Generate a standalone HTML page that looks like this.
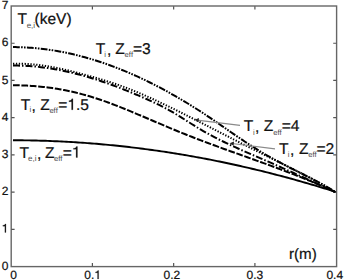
<!DOCTYPE html>
<html><head><meta charset="utf-8"><style>
html,body{margin:0;padding:0;background:#fff;}
svg{display:block;}
text{text-rendering:geometricPrecision;}
</style></head><body>
<svg width="344" height="280" viewBox="0 0 344 280">
<rect width="344" height="280" fill="#fff"/>
<rect x="11.2" y="6.0" width="325.4" height="260.6" fill="none" stroke="#666" stroke-width="1.4"/>
<path d="M92.40,266.5 v-3.4 M92.40,6.2 v3.4 M173.65,266.5 v-3.4 M173.65,6.2 v3.4 M254.90,266.5 v-3.4 M254.90,6.2 v3.4 M11.2,229.29 h3.4 M336.6,229.29 h-3.4 M11.2,192.08 h3.4 M336.6,192.08 h-3.4 M11.2,154.87 h3.4 M336.6,154.87 h-3.4 M11.2,117.66 h3.4 M336.6,117.66 h-3.4 M11.2,80.45 h3.4 M336.6,80.45 h-3.4 M11.2,43.24 h3.4 M336.6,43.24 h-3.4" stroke="#555" stroke-width="1.2" fill="none"/>
<path d="M13.00,140.25 L15.32,140.26 L17.64,140.27 L19.96,140.28 L22.28,140.31 L24.60,140.34 L26.92,140.37 L29.24,140.41 L31.56,140.45 L33.88,140.50 L36.20,140.55 L38.52,140.61 L40.84,140.68 L43.16,140.75 L45.48,140.82 L47.80,140.91 L50.12,140.99 L52.44,141.08 L54.76,141.18 L57.08,141.28 L59.40,141.39 L61.72,141.50 L64.04,141.62 L66.36,141.74 L68.68,141.87 L71.00,142.00 L73.32,142.14 L75.64,142.29 L77.96,142.44 L80.28,142.59 L82.60,142.75 L84.92,142.92 L87.24,143.09 L89.56,143.26 L91.88,143.45 L94.21,143.63 L96.53,143.82 L98.85,144.02 L101.17,144.22 L103.49,144.43 L105.81,144.64 L108.13,144.86 L110.45,145.08 L112.77,145.31 L115.09,145.55 L117.41,145.79 L119.73,146.03 L122.05,146.28 L124.37,146.54 L126.69,146.80 L129.01,147.06 L131.33,147.33 L133.65,147.61 L135.97,147.89 L138.29,148.18 L140.61,148.47 L142.93,148.77 L145.25,149.07 L147.57,149.38 L149.89,149.69 L152.21,150.01 L154.53,150.33 L156.85,150.66 L159.17,151.00 L161.49,151.34 L163.81,151.68 L166.13,152.03 L168.45,152.39 L170.77,152.75 L173.09,153.12 L175.41,153.49 L177.73,153.86 L180.05,154.25 L182.37,154.63 L184.69,155.03 L187.01,155.42 L189.33,155.83 L191.65,156.23 L193.97,156.65 L196.29,157.07 L198.61,157.49 L200.93,157.92 L203.25,158.36 L205.57,158.80 L207.89,159.24 L210.21,159.69 L212.53,160.15 L214.85,160.61 L217.17,161.08 L219.49,161.55 L221.81,162.02 L224.13,162.51 L226.45,162.99 L228.77,163.49 L231.09,163.99 L233.41,164.49 L235.73,165.00 L238.05,165.51 L240.37,166.03 L242.69,166.56 L245.01,167.09 L247.33,167.62 L249.65,168.16 L251.97,168.71 L254.29,169.26 L256.62,169.81 L258.94,170.38 L261.26,170.94 L263.58,171.52 L265.90,172.09 L268.22,172.68 L270.54,173.26 L272.86,173.86 L275.18,174.46 L277.50,175.06 L279.82,175.67 L282.14,176.28 L284.46,176.90 L286.78,177.53 L289.10,178.16 L291.42,178.79 L293.74,179.43 L296.06,180.08 L298.38,180.73 L300.70,181.39 L303.02,182.05 L305.34,182.72 L307.66,183.39 L309.98,184.07 L312.30,184.75 L314.62,185.44 L316.94,186.13 L319.26,186.83 L321.58,187.54 L323.90,188.25 L326.22,188.96 L328.54,189.68 L330.86,190.41 L333.18,191.14 L335.50,191.87" fill="none" stroke="#000" stroke-width="1.9"/>
<path d="M13.00,85.30 L15.32,85.31 L17.64,85.33 L19.96,85.37 L22.28,85.44 L24.60,85.52 L26.92,85.62 L29.24,85.75 L31.56,85.89 L33.88,86.05 L36.20,86.24 L38.52,86.44 L40.84,86.67 L43.16,86.91 L45.48,87.18 L47.80,87.47 L50.12,87.78 L52.44,88.11 L54.76,88.46 L57.08,88.83 L59.40,89.22 L61.72,89.64 L64.04,90.08 L66.36,90.53 L68.68,91.02 L71.00,91.52 L73.32,92.04 L75.64,92.59 L77.96,93.16 L80.28,93.75 L82.60,94.36 L84.92,94.99 L87.24,95.65 L89.56,96.33 L91.88,97.03 L94.21,97.76 L96.53,98.51 L98.85,99.27 L101.17,100.06 L103.49,100.86 L105.81,101.68 L108.13,102.52 L110.45,103.38 L112.77,104.24 L115.09,105.13 L117.41,106.03 L119.73,106.93 L122.05,107.85 L124.37,108.79 L126.69,109.73 L129.01,110.68 L131.33,111.63 L133.65,112.60 L135.97,113.57 L138.29,114.55 L140.61,115.53 L142.93,116.51 L145.25,117.50 L147.57,118.49 L149.89,119.48 L152.21,120.47 L154.53,121.46 L156.85,122.45 L159.17,123.44 L161.49,124.42 L163.81,125.41 L166.13,126.39 L168.45,127.36 L170.77,128.33 L173.09,129.30 L175.41,130.26 L177.73,131.22 L180.05,132.17 L182.37,133.11 L184.69,134.04 L187.01,134.97 L189.33,135.89 L191.65,136.80 L193.97,137.70 L196.29,138.60 L198.61,139.48 L200.93,140.37 L203.25,141.25 L205.57,142.12 L207.89,142.98 L210.21,143.85 L212.53,144.70 L214.85,145.56 L217.17,146.41 L219.49,147.25 L221.81,148.10 L224.13,148.94 L226.45,149.77 L228.77,150.61 L231.09,151.44 L233.41,152.27 L235.73,153.10 L238.05,153.93 L240.37,154.76 L242.69,155.59 L245.01,156.42 L247.33,157.25 L249.65,158.08 L251.97,158.91 L254.29,159.74 L256.62,160.58 L258.94,161.41 L261.26,162.25 L263.58,163.09 L265.90,163.93 L268.22,164.78 L270.54,165.63 L272.86,166.49 L275.18,167.35 L277.50,168.21 L279.82,169.08 L282.14,169.95 L284.46,170.83 L286.78,171.71 L289.10,172.60 L291.42,173.50 L293.74,174.40 L296.06,175.32 L298.38,176.23 L300.70,177.16 L303.02,178.09 L305.34,179.04 L307.66,179.99 L309.98,180.95 L312.30,181.92 L314.62,182.90 L316.94,183.89 L319.26,184.89 L321.58,185.90 L323.90,186.92 L326.22,187.95 L328.54,189.00 L330.86,190.05 L333.18,191.12 L335.50,192.20" fill="none" stroke="#000" stroke-width="2" stroke-dasharray="6.7 1.7"/>
<path d="M13.00,65.60 L15.32,65.59 L17.64,65.61 L19.96,65.65 L22.28,65.72 L24.60,65.81 L26.92,65.93 L29.24,66.07 L31.56,66.24 L33.88,66.43 L36.20,66.64 L38.52,66.88 L40.84,67.14 L43.16,67.42 L45.48,67.73 L47.80,68.06 L50.12,68.41 L52.44,68.78 L54.76,69.18 L57.08,69.60 L59.40,70.03 L61.72,70.49 L64.04,70.97 L66.36,71.47 L68.68,71.98 L71.00,72.52 L73.32,73.08 L75.64,73.66 L77.96,74.25 L80.28,74.87 L82.60,75.50 L84.92,76.15 L87.24,76.82 L89.56,77.50 L91.88,78.20 L94.21,78.92 L96.53,79.66 L98.85,80.41 L101.17,81.18 L103.49,81.97 L105.81,82.77 L108.13,83.58 L110.45,84.41 L112.77,85.26 L115.09,86.12 L117.41,86.99 L119.73,87.88 L122.05,88.78 L124.37,89.70 L126.69,90.63 L129.01,91.57 L131.33,92.52 L133.65,93.49 L135.97,94.46 L138.29,95.45 L140.61,96.46 L142.93,97.47 L145.25,98.49 L147.57,99.53 L149.89,100.57 L152.21,101.64 L154.53,102.72 L156.85,103.82 L159.17,104.95 L161.49,106.11 L163.81,107.30 L166.13,108.53 L168.45,109.79 L170.77,111.09 L173.09,112.44 L175.41,113.82 L177.73,115.23 L180.05,116.66 L182.37,118.11 L184.69,119.58 L187.01,121.05 L189.33,122.52 L191.65,123.98 L193.97,125.43 L196.29,126.87 L198.61,128.29 L200.93,129.67 L203.25,131.02 L205.57,132.35 L207.89,133.64 L210.21,134.91 L212.53,136.15 L214.85,137.37 L217.17,138.56 L219.49,139.74 L221.81,140.89 L224.13,142.02 L226.45,143.14 L228.77,144.24 L231.09,145.32 L233.41,146.39 L235.73,147.45 L238.05,148.49 L240.37,149.53 L242.69,150.55 L245.01,151.57 L247.33,152.59 L249.65,153.60 L251.97,154.60 L254.29,155.61 L256.62,156.61 L258.94,157.62 L261.26,158.62 L263.58,159.63 L265.90,160.65 L268.22,161.66 L270.54,162.68 L272.86,163.70 L275.18,164.72 L277.50,165.75 L279.82,166.77 L282.14,167.81 L284.46,168.84 L286.78,169.87 L289.10,170.91 L291.42,171.95 L293.74,173.00 L296.06,174.04 L298.38,175.09 L300.70,176.14 L303.02,177.20 L305.34,178.25 L307.66,179.31 L309.98,180.37 L312.30,181.43 L314.62,182.50 L316.94,183.57 L319.26,184.64 L321.58,185.71 L323.90,186.79 L326.22,187.87 L328.54,188.95 L330.86,190.03 L333.18,191.11 L335.50,192.20" fill="none" stroke="#000" stroke-width="2" stroke-dasharray="7 2 1.5 2"/>
<path d="M13.00,63.70 L15.32,63.65 L17.64,63.64 L19.96,63.66 L22.28,63.72 L24.60,63.81 L26.92,63.93 L29.24,64.08 L31.56,64.26 L33.88,64.48 L36.20,64.72 L38.52,64.98 L40.84,65.28 L43.16,65.60 L45.48,65.95 L47.80,66.32 L50.12,66.71 L52.44,67.12 L54.76,67.56 L57.08,68.02 L59.40,68.49 L61.72,68.99 L64.04,69.50 L66.36,70.03 L68.68,70.57 L71.00,71.13 L73.32,71.71 L75.64,72.30 L77.96,72.90 L80.28,73.51 L82.60,74.13 L84.92,74.76 L87.24,75.40 L89.56,76.05 L91.88,76.70 L94.21,77.36 L96.53,78.03 L98.85,78.71 L101.17,79.40 L103.49,80.10 L105.81,80.82 L108.13,81.54 L110.45,82.29 L112.77,83.04 L115.09,83.82 L117.41,84.60 L119.73,85.41 L122.05,86.24 L124.37,87.09 L126.69,87.95 L129.01,88.84 L131.33,89.76 L133.65,90.69 L135.97,91.65 L138.29,92.62 L140.61,93.61 L142.93,94.62 L145.25,95.64 L147.57,96.67 L149.89,97.71 L152.21,98.77 L154.53,99.83 L156.85,100.90 L159.17,101.99 L161.49,103.08 L163.81,104.18 L166.13,105.29 L168.45,106.40 L170.77,107.53 L173.09,108.66 L175.41,109.80 L177.73,110.94 L180.05,112.09 L182.37,113.25 L184.69,114.41 L187.01,115.58 L189.33,116.75 L191.65,117.92 L193.97,119.10 L196.29,120.28 L198.61,121.46 L200.93,122.65 L203.25,123.84 L205.57,125.03 L207.89,126.22 L210.21,127.41 L212.53,128.61 L214.85,129.80 L217.17,130.99 L219.49,132.18 L221.81,133.38 L224.13,134.57 L226.45,135.75 L228.77,136.94 L231.09,138.12 L233.41,139.30 L235.73,140.48 L238.05,141.66 L240.37,142.83 L242.69,144.00 L245.01,145.17 L247.33,146.34 L249.65,147.51 L251.97,148.67 L254.29,149.83 L256.62,150.99 L258.94,152.14 L261.26,153.30 L263.58,154.45 L265.90,155.60 L268.22,156.75 L270.54,157.90 L272.86,159.04 L275.18,160.19 L277.50,161.34 L279.82,162.49 L282.14,163.64 L284.46,164.79 L286.78,165.95 L289.10,167.11 L291.42,168.27 L293.74,169.44 L296.06,170.62 L298.38,171.80 L300.70,172.99 L303.02,174.19 L305.34,175.40 L307.66,176.62 L309.98,177.84 L312.30,179.08 L314.62,180.33 L316.94,181.59 L319.26,182.87 L321.58,184.15 L323.90,185.46 L326.22,186.77 L328.54,188.10 L330.86,189.45 L333.18,190.82 L335.50,192.20" fill="none" stroke="#000" stroke-width="2" stroke-dasharray="1.3 1.6"/>
<path d="M13.00,47.10 L15.32,47.12 L17.64,47.15 L19.96,47.21 L22.28,47.29 L24.60,47.39 L26.92,47.51 L29.24,47.66 L31.56,47.82 L33.88,48.01 L36.20,48.21 L38.52,48.44 L40.84,48.69 L43.16,48.96 L45.48,49.25 L47.80,49.56 L50.12,49.89 L52.44,50.25 L54.76,50.62 L57.08,51.01 L59.40,51.43 L61.72,51.86 L64.04,52.31 L66.36,52.79 L68.68,53.28 L71.00,53.79 L73.32,54.33 L75.64,54.88 L77.96,55.45 L80.28,56.04 L82.60,56.66 L84.92,57.29 L87.24,57.94 L89.56,58.61 L91.88,59.29 L94.21,60.00 L96.53,60.73 L98.85,61.47 L101.17,62.24 L103.49,63.02 L105.81,63.82 L108.13,64.64 L110.45,65.48 L112.77,66.34 L115.09,67.21 L117.41,68.11 L119.73,69.02 L122.05,69.95 L124.37,70.90 L126.69,71.86 L129.01,72.84 L131.33,73.85 L133.65,74.86 L135.97,75.90 L138.29,76.96 L140.61,78.03 L142.93,79.12 L145.25,80.22 L147.57,81.34 L149.89,82.49 L152.21,83.64 L154.53,84.82 L156.85,86.01 L159.17,87.22 L161.49,88.44 L163.81,89.68 L166.13,90.94 L168.45,92.21 L170.77,93.51 L173.09,94.81 L175.41,96.14 L177.73,97.47 L180.05,98.83 L182.37,100.20 L184.69,101.59 L187.01,102.99 L189.33,104.41 L191.65,105.85 L193.97,107.30 L196.29,108.76 L198.61,110.24 L200.93,111.74 L203.25,113.25 L205.57,114.78 L207.89,116.32 L210.21,117.88 L212.53,119.45 L214.85,121.03 L217.17,122.62 L219.49,124.23 L221.81,125.83 L224.13,127.44 L226.45,129.06 L228.77,130.67 L231.09,132.27 L233.41,133.88 L235.73,135.47 L238.05,137.05 L240.37,138.62 L242.69,140.18 L245.01,141.72 L247.33,143.25 L249.65,144.75 L251.97,146.24 L254.29,147.71 L256.62,149.16 L258.94,150.59 L261.26,152.00 L263.58,153.39 L265.90,154.75 L268.22,156.09 L270.54,157.41 L272.86,158.71 L275.18,159.99 L277.50,161.25 L279.82,162.49 L282.14,163.72 L284.46,164.93 L286.78,166.13 L289.10,167.32 L291.42,168.49 L293.74,169.66 L296.06,170.81 L298.38,171.97 L300.70,173.11 L303.02,174.25 L305.34,175.40 L307.66,176.55 L309.98,177.71 L312.30,178.89 L314.62,180.08 L316.94,181.29 L319.26,182.53 L321.58,183.79 L323.90,185.09 L326.22,186.42 L328.54,187.80 L330.86,189.22 L333.18,190.68 L335.50,192.20" fill="none" stroke="#000" stroke-width="2" stroke-dasharray="6.8 1.3 1.6 1.3 1.6 1.3"/>
<line x1="197" y1="120.2" x2="240" y2="125.3" stroke="#8a8a8a" stroke-width="1.2"/>
<polygon points="194.5,119.8 199,118 198.6,122.2" fill="#222"/>
<line x1="232" y1="143.5" x2="275" y2="148.8" stroke="#8a8a8a" stroke-width="1.2"/>
<polygon points="229.6,143.3 234,141.5 233.6,145.7" fill="#222"/>
<text x="1.63" y="269.60" font-size="12" font-family="Liberation Sans, sans-serif" fill="#111" stroke="#111" stroke-width="0.22" style="font-kerning:none">0</text>
<path transform="translate(1.63,232.39) scale(12,-12)" d="M0.271 0L0.359 0L0.359 0.703L0.288 0.703C0.272 0.634 0.222 0.59 0.101 0.588L0.101 0.522L0.271 0.522Z" fill="#111" stroke="#111" stroke-width="0.018"/>
<text x="1.63" y="195.18" font-size="12" font-family="Liberation Sans, sans-serif" fill="#111" stroke="#111" stroke-width="0.22" style="font-kerning:none">2</text>
<text x="1.63" y="157.97" font-size="12" font-family="Liberation Sans, sans-serif" fill="#111" stroke="#111" stroke-width="0.22" style="font-kerning:none">3</text>
<text x="1.63" y="120.76" font-size="12" font-family="Liberation Sans, sans-serif" fill="#111" stroke="#111" stroke-width="0.22" style="font-kerning:none">4</text>
<text x="1.63" y="83.55" font-size="12" font-family="Liberation Sans, sans-serif" fill="#111" stroke="#111" stroke-width="0.22" style="font-kerning:none">5</text>
<text x="1.63" y="46.34" font-size="12" font-family="Liberation Sans, sans-serif" fill="#111" stroke="#111" stroke-width="0.22" style="font-kerning:none">6</text>
<text x="1.63" y="9.13" font-size="12" font-family="Liberation Sans, sans-serif" fill="#111" stroke="#111" stroke-width="0.22" style="font-kerning:none">7</text>
<text x="10.20" y="279.00" font-size="12" font-family="Liberation Sans, sans-serif" fill="#111" stroke="#111" stroke-width="0.22" style="font-kerning:none">0</text>
<text x="84.30" y="279.00" font-size="12" font-family="Liberation Sans, sans-serif" fill="#111" stroke="#111" stroke-width="0.22" style="font-kerning:none">0.</text>
<path transform="translate(94.31,279.00) scale(12,-12)" d="M0.271 0L0.359 0L0.359 0.703L0.288 0.703C0.272 0.634 0.222 0.59 0.101 0.588L0.101 0.522L0.271 0.522Z" fill="#111" stroke="#111" stroke-width="0.018"/>
<text x="163.61" y="279.00" font-size="12" font-family="Liberation Sans, sans-serif" fill="#111" stroke="#111" stroke-width="0.22" style="font-kerning:none">0.2</text>
<text x="246.61" y="279.00" font-size="12" font-family="Liberation Sans, sans-serif" fill="#111" stroke="#111" stroke-width="0.22" style="font-kerning:none">0.3</text>
<text x="326.43" y="279.00" font-size="12" font-family="Liberation Sans, sans-serif" fill="#111" stroke="#111" stroke-width="0.22" style="font-kerning:none">0.4</text>
<text x="17.55" y="24.30" font-size="15.5" font-family="Liberation Sans, sans-serif" fill="#111" stroke="#111" stroke-width="0.22" style="font-kerning:none">T</text>
<text x="26.66" y="28.00" font-size="8.0" font-family="Liberation Sans, sans-serif" fill="#4a4a4a" style="font-kerning:none">e,i</text>
<text x="34.54" y="24.30" font-size="15.5" font-family="Liberation Sans, sans-serif" fill="#111" stroke="#111" stroke-width="0.22" style="font-kerning:none">(keV)</text>
<text x="95.75" y="54.00" font-size="15.6" font-family="Liberation Sans, sans-serif" fill="#111" stroke="#111" stroke-width="0.22" style="font-kerning:none">T</text>
<text x="104.29" y="56.70" font-size="7.6" font-family="Liberation Sans, sans-serif" fill="#4a4a4a" style="font-kerning:none">i</text>
<text x="106.90" y="55.00" font-size="15.6" font-family="Liberation Sans, sans-serif" fill="#111" stroke="#111" stroke-width="0.22" style="font-kerning:none">,</text>
<text x="115.30" y="54.00" font-size="15.6" font-family="Liberation Sans, sans-serif" fill="#111" stroke="#111" stroke-width="0.22" style="font-kerning:none">Z</text>
<text x="124.58" y="57.40" font-size="7.6" font-family="Liberation Sans, sans-serif" fill="#4a4a4a" style="font-kerning:none">eff</text>
<text x="132.94" y="54.00" font-size="15.6" font-family="Liberation Sans, sans-serif" fill="#111" stroke="#111" stroke-width="0.22" style="font-kerning:none">=3</text>
<text x="20.65" y="109.80" font-size="15.6" font-family="Liberation Sans, sans-serif" fill="#111" stroke="#111" stroke-width="0.22" style="font-kerning:none">T</text>
<text x="29.39" y="112.30" font-size="7.6" font-family="Liberation Sans, sans-serif" fill="#4a4a4a" style="font-kerning:none">i</text>
<text x="31.60" y="110.80" font-size="15.6" font-family="Liberation Sans, sans-serif" fill="#111" stroke="#111" stroke-width="0.22" style="font-kerning:none">,</text>
<text x="40.30" y="109.80" font-size="15.6" font-family="Liberation Sans, sans-serif" fill="#111" stroke="#111" stroke-width="0.22" style="font-kerning:none">Z</text>
<text x="49.38" y="112.70" font-size="7.6" font-family="Liberation Sans, sans-serif" fill="#4a4a4a" style="font-kerning:none">eff</text>
<text x="58.24" y="109.80" font-size="15.6" font-family="Liberation Sans, sans-serif" fill="#111" stroke="#111" stroke-width="0.22" style="font-kerning:none">=</text>
<path transform="translate(67.35,109.80) scale(15.6,-15.6)" d="M0.271 0L0.359 0L0.359 0.703L0.288 0.703C0.272 0.634 0.222 0.59 0.101 0.588L0.101 0.522L0.271 0.522Z" fill="#111" stroke="#111" stroke-width="0.014"/>
<text x="76.02" y="109.80" font-size="15.6" font-family="Liberation Sans, sans-serif" fill="#111" stroke="#111" stroke-width="0.22" style="font-kerning:none">.5</text>
<text x="243.85" y="131.30" font-size="15.6" font-family="Liberation Sans, sans-serif" fill="#111" stroke="#111" stroke-width="0.22" style="font-kerning:none">T</text>
<text x="253.09" y="134.50" font-size="7.6" font-family="Liberation Sans, sans-serif" fill="#4a4a4a" style="font-kerning:none">i</text>
<text x="255.00" y="132.30" font-size="15.6" font-family="Liberation Sans, sans-serif" fill="#111" stroke="#111" stroke-width="0.22" style="font-kerning:none">,</text>
<text x="263.70" y="131.30" font-size="15.6" font-family="Liberation Sans, sans-serif" fill="#111" stroke="#111" stroke-width="0.22" style="font-kerning:none">Z</text>
<text x="273.28" y="135.30" font-size="7.6" font-family="Liberation Sans, sans-serif" fill="#4a4a4a" style="font-kerning:none">eff</text>
<text x="281.64" y="131.30" font-size="15.6" font-family="Liberation Sans, sans-serif" fill="#111" stroke="#111" stroke-width="0.22" style="font-kerning:none">=4</text>
<text x="278.95" y="153.80" font-size="15.6" font-family="Liberation Sans, sans-serif" fill="#111" stroke="#111" stroke-width="0.22" style="font-kerning:none">T</text>
<text x="287.69" y="156.50" font-size="7.6" font-family="Liberation Sans, sans-serif" fill="#4a4a4a" style="font-kerning:none">i</text>
<text x="289.90" y="154.80" font-size="15.6" font-family="Liberation Sans, sans-serif" fill="#111" stroke="#111" stroke-width="0.22" style="font-kerning:none">,</text>
<text x="298.90" y="153.80" font-size="15.6" font-family="Liberation Sans, sans-serif" fill="#111" stroke="#111" stroke-width="0.22" style="font-kerning:none">Z</text>
<text x="308.18" y="156.90" font-size="7.6" font-family="Liberation Sans, sans-serif" fill="#4a4a4a" style="font-kerning:none">eff</text>
<text x="316.44" y="153.80" font-size="15.6" font-family="Liberation Sans, sans-serif" fill="#111" stroke="#111" stroke-width="0.22" style="font-kerning:none">=2</text>
<text x="19.55" y="157.50" font-size="15.6" font-family="Liberation Sans, sans-serif" fill="#111" stroke="#111" stroke-width="0.22" style="font-kerning:none">T</text>
<text x="27.96" y="160.80" font-size="8.0" font-family="Liberation Sans, sans-serif" fill="#4a4a4a" style="font-kerning:none">e,i</text>
<text x="37.10" y="158.50" font-size="15.6" font-family="Liberation Sans, sans-serif" fill="#111" stroke="#111" stroke-width="0.22" style="font-kerning:none">,</text>
<text x="45.00" y="157.50" font-size="15.6" font-family="Liberation Sans, sans-serif" fill="#111" stroke="#111" stroke-width="0.22" style="font-kerning:none">Z</text>
<text x="53.98" y="160.80" font-size="7.6" font-family="Liberation Sans, sans-serif" fill="#4a4a4a" style="font-kerning:none">eff</text>
<text x="62.74" y="157.50" font-size="15.6" font-family="Liberation Sans, sans-serif" fill="#111" stroke="#111" stroke-width="0.22" style="font-kerning:none">=</text>
<path transform="translate(71.85,157.50) scale(15.6,-15.6)" d="M0.271 0L0.359 0L0.359 0.703L0.288 0.703C0.272 0.634 0.222 0.59 0.101 0.588L0.101 0.522L0.271 0.522Z" fill="#111" stroke="#111" stroke-width="0.014"/>
<text x="288.99" y="258.80" font-size="15.2" font-family="Liberation Sans, sans-serif" fill="#111" stroke="#111" stroke-width="0.22" style="font-kerning:none">r(m)</text>
</svg>
</body></html>
